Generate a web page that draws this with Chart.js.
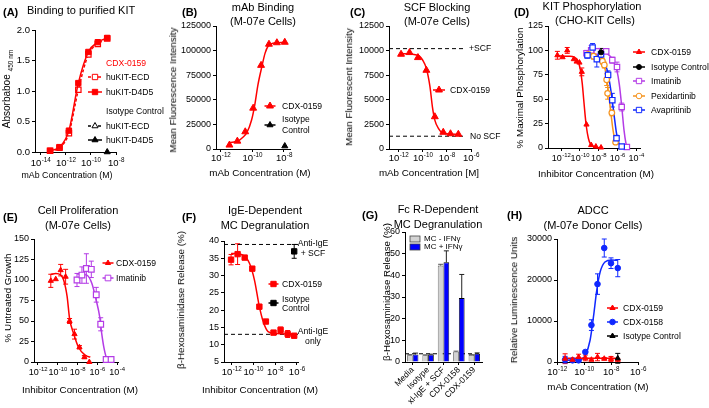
<!DOCTYPE html>
<html>
<head>
<meta charset="utf-8">
<script src="https://cdn.jsdelivr.net/npm/chart.js@4.4.1/dist/chart.umd.min.js"></script>
<style>
  html, body { margin: 0; padding: 0; background: #fff; }
  #fig { position: relative; width: 709px; height: 408px; overflow: hidden;
         font-family: 'Liberation Sans', Arial, Helvetica, sans-serif; color: #000; }
  #fig canvas { position: absolute; left: 0; top: 0; }
  .t { position: absolute; white-space: nowrap; line-height: 1; }
</style>
</head>
<body>
<div id="fig"></div>
<script>
// ============================================
// DATA  (concentrations are log10 of molar)
// ============================================
// (A) Binding to purified KIT
const aConc = [-13.25, -12.5, -11.75, -11.0, -10.2, -9.45, -8.7];
const aEcd = [0.02, 0.07, 0.31, 1.02, 1.60, 1.77, 1.86];
const aD4d5 = [0.02, 0.08, 0.35, 1.13, 1.64, 1.80, 1.87];
const aIsoConc = [-8.7];
const aIsoD4d5 = [0.0];
const aXTicks = [-14, -12, -10, -8];
const aYTicks = [0, 0.5, 1.0, 1.5, 2.0];

// (B) mAb binding, M-07e cells
const bConc = [-11.45, -10.95, -10.45, -9.95, -9.45, -8.95, -8.45, -7.95];
const bCdx = [4000, 8000, 17500, 41500, 85000, 106500, 108000, 108500];
const bFitConc = [-11.45, -10.9, -10.6, -10.35, -10.05, -9.85, -9.65, -9.4, -9.2, -9.0, -8.7, -7.95];
const bFit = [6400, 8100, 11900, 16600, 29500, 44700, 65000, 83700, 97200, 104700, 107400, 108400];
const bIsoConc = [-7.95];
const bIso = [3000];
const bXTicks = [-12, -10, -8];
const bYTicks = [0, 25000, 50000, 75000, 100000, 125000];

// (C) SCF blocking
const cConc = [-11.8, -11.1, -10.4, -9.7, -9.0, -8.3, -7.7, -7.05];
const cCdx = [9630, 9800, 9290, 8000, 3280, 1700, 1550, 1500];
const cFitConc = [-11.8, -10.4, -10.0, -9.7, -9.4, -9.2, -9.0, -8.7, -8.3, -7.05];
const cFit = [9700, 9530, 9020, 8180, 6320, 4290, 2940, 2100, 1590, 1490];
const cRefConc = [-12.8, -6.5];
const cPlusScf = [10200, 10200];
const cNoScf = [1300, 1300];
const cXTicks = [-12, -10, -8, -6];
const cYTicks = [0, 2500, 5000, 7500, 10000, 12500];

// (D) KIT phosphorylation, CHO-KIT cells
const dCdxConc = [-12.4, -11.85, -11.35, -10.65, -10.35, -10.05, -9.8, -9.3, -8.8, -8.3, -7.75];
const dCdx = [95, 93, 100, 91, 88.5, 87.5, 78, 24, 3, 1.5, 0.5];
const dCdxErr = [4, 0, 3, 0, 0, 0, 4, 0, 0, 0, 0];
const dCdxFitConc = [-12.4, -11.2, -10.6, -10.2, -9.95, -9.75, -9.6, -9.45, -9.3, -9.1, -8.9, -8.5, -7.75];
const dCdxFit = [94.5, 94, 93, 89, 80, 66, 50, 34, 21, 10, 4.5, 1, 0.2];
const dIsoConc = [-7.75];
const dIso = [98];
const dIsoErr = [4];
const dImaConc = [-9.3, -8.8, -8.2, -7.2, -6.55, -6.05, -5.55, -5.0];
const dIma = [97, 100, 99, 99, 90, 83, 42, 1];
const dImaErr = [3, 5, 3, 2, 3, 5, 4, 1];
const dImaFitConc = [-9.3, -7.5, -7.0, -6.6, -6.3, -6.05, -5.8, -5.55, -5.3, -5.1, -5.0];
const dImaFit = [98.5, 98, 96, 92, 86, 79, 65, 43, 18, 5, 2];
const dPexConc = [-9.1, -8.55, -7.6, -7.4, -7.15, -7.05, -6.6, -6.2];
const dPex = [96, 94, 89, 85, 70, 56, 36, 6];
const dPexErr = [3, 3, 3, 3, 6, 6, 3, 2];
const dPexFitConc = [-9.1, -8.0, -7.6, -7.3, -7.1, -6.9, -6.7, -6.5, -6.3, -6.1];
const dPexFit = [96, 93, 88, 80, 68, 52, 36, 20, 9, 3];
const dAvaConc = [-9.2, -8.65, -8.2, -7.75, -7.0, -6.55, -6.1, -5.55];
const dAva = [95, 103, 91, 96, 75, 49, 10, 1.5];
const dAvaErr = [3, 4, 8, 3, 4, 7, 3, 1];
const dAvaFitConc = [-9.2, -8.0, -7.5, -7.1, -6.85, -6.6, -6.35, -6.1, -5.85, -5.55];
const dAvaFit = [97, 95, 90, 80, 68, 52, 33, 15, 5, 1];
const dXTicks = [-12, -10, -8, -6, -4];
const dYTicks = [0, 25, 50, 75, 100, 125];

// (E) Cell proliferation, M-07e cells
const eCdxConc = [-10.7, -10.2, -9.7, -9.2, -8.8, -8.3, -7.8, -7.3, -6.8];
const eCdx = [99, 101, 112, 104, 50, 34, 18, 6, 0];
const eCdxErr = [8, 0, 7, 9, 3, 6, 2, 2, 0];
const eCdxFitConc = [-10.7, -10.2, -9.7, -9.4, -9.05, -8.8, -8.4, -7.9, -7.2, -6.7];
const eCdxFit = [107, 108, 106, 100, 80, 53, 35, 18, 8, 6];
const eImaConc = [-8.05, -7.55, -7.1, -6.6, -6.1, -5.65, -5.1, -4.6];
const eIma = [100, 106, 114, 113, 82, 46, 3, 3];
const eImaErr = [8, 10, 18, 10, 9, 8, 1, 1];
const eImaFitConc = [-8.05, -7.05, -6.55, -6.1, -5.75, -5.55, -5.3, -5.05, -4.6];
const eImaFit = [107.5, 106, 96, 75, 55, 35, 16, 5, 2];
const eXTicks = [-12, -10, -8, -6, -4];
const eYTicks = [0, 25, 50, 75, 100, 125, 150];

// (F) IgE-dependent MC degranulation
const fConc = [-12.05, -11.45, -10.8, -10.1, -9.45, -8.85, -8.15, -7.5, -6.85, -6.25];
const fCdx = [34.6, 36.2, 35.2, 32.0, 21.0, 16.7, 13.5, 14.3, 13.1, 12.6];
const fCdxErr = [1.5, 3, 0.3, 0.3, 0.3, 0.3, 0.3, 0.8, 1, 0.3];
const fFitConc = [-12.05, -11.1, -10.35, -9.9, -9.45, -9.1, -8.65, -8.05, -6.25];
const fFit = [36.4, 36.1, 33.5, 28.7, 21.0, 16.7, 13.8, 13.3, 13.0];
const fIsoConc = [-6.25];
const fIso = [37];
const fIsoErr = [2];
const fRefConc = [-12.7, -5.7];
const fAntiIgeScf = [39, 39];
const fAntiIgeOnly = [13, 13];
const fXTicks = [-12, -10, -8, -6];
const fYTicks = [5, 10, 15, 20, 25, 30, 35, 40];

// (G) Fc R-dependent MC degranulation
const gCats = ['Media', 'Isotype', 'xl-IgE + SCF', 'CDX-0158', 'CDX-0159'];
const gMinus = [3.1, 3.1, 44.5, 4.7, 3.2];
const gMinusErr = [0.3, 0.2, 0.6, 0.3, 0.2];
const gPlus = [3.5, 3.4, 46.0, 29.5, 3.8];
const gPlusErr = [0.6, 0.2, 5.3, 10.9, 0.4];
const gBaseline = 3.8;
const gYTicks = [0, 10, 20, 30, 40, 50, 60];

// (H) ADCC, M-07e donor cells
const hConc = [-11.4, -10.85, -10.4, -9.9, -9.45, -9.0, -8.5, -8.0, -7.5];
const h158 = [570, 400, 400, 2450, 9000, 19000, 27800, 24100, 22900];
const h158Err = [800, 350, 300, 350, 1300, 2500, 2200, 1300, 2100];
const h158FitConc = [-11.4, -10.4, -10.1, -9.9, -9.55, -9.3, -9.05, -8.8, -8.45, -7.95, -7.5];
const h158Fit = [400, 500, 900, 1600, 5300, 11000, 17600, 22000, 24400, 24900, 24800];
const h159 = [800, 550, 1200, 1000, 550, 1200, 800, 750, 550];
const h159Err = [1200, 250, 700, 700, 250, 900, 300, 600, 250];
const h159FitConc = [-11.4, -7.5];
const h159Fit = [900, 900];
const hIsoConc = [-7.5];
const hIso = [900];
const hIsoErr = [1200];
const hXTicks = [-12, -10, -8, -6];
const hYTicks = [0, 10000, 20000, 30000];

// ============================================
// HELPERS
// ============================================
const fig = document.getElementById('fig');
const FONT = "'Liberation Sans', Arial, Helvetica, sans-serif";
const RED = '#ff0000', PURPLE = '#b43ce6', ORANGE = '#f5931e', BLUE = '#1028ff', BLACK = '#000000';

function toPts(xs, ys) {
  return xs.map((x, i) => ({ x: Math.pow(10, x), y: ys[i] }));
}

function axisX(xmin, xmax, ticks) {
  return {
    type: 'logarithmic', min: Math.pow(10, xmin), max: Math.pow(10, xmax),
    afterBuildTicks: s => { s.ticks = ticks.map(v => ({ value: Math.pow(10, v) })); },
    ticks: { display: false, autoSkip: false },
    grid: { drawOnChartArea: false, tickLength: 3, color: BLACK, lineWidth: 1 },
    border: { color: BLACK, width: 1 }
  };
}
function axisY(ticks, size, fmt) {
  return {
    type: 'linear', min: ticks[0], max: ticks[ticks.length - 1],
    afterBuildTicks: s => { s.ticks = ticks.map(v => ({ value: v })); },
    ticks: { callback: fmt || (v => String(v)), font: { family: FONT, size: size }, color: BLACK,
             padding: 2, autoSkip: false },
    grid: { drawOnChartArea: false, tickLength: 3, color: BLACK, lineWidth: 1 },
    border: { color: BLACK, width: 1 }
  };
}

// symbols with optional error bars and connecting line
function dots(xs, ys, o) {
  return {
    data: toPts(xs, ys),
    pointStyle: o.style, pointRadius: o.r,
    pointBackgroundColor: o.open ? '#ffffff' : o.color, pointBorderColor: o.color,
    pointBorderWidth: o.open ? 1.2 : 1,
    showLine: !!o.line, borderColor: o.color, borderWidth: 1.5, borderDash: o.dash || [],
    cubicInterpolationMode: 'monotone', errs: o.errs, errColor: o.color, clip: false
  };
}
// fitted curve / reference line
function curve(xs, ys, color, dash, width) {
  return {
    data: toPts(xs, ys), showLine: true, pointRadius: 0,
    borderColor: color, borderWidth: width || 1.5, borderDash: dash || [],
    cubicInterpolationMode: 'monotone', clip: false
  };
}

function drawErr(chart, ds, i, upOnly) {
  const meta = chart.getDatasetMeta(i), ys = chart.scales.y, ctx = chart.ctx;
  ctx.save();
  ctx.strokeStyle = ds.errColor || BLACK;
  ctx.lineWidth = 1;
  meta.data.forEach((el, j) => {
    const e = ds.errs[j];
    if (!e) return;
    const raw = ds.data[j];
    const v = typeof raw === 'number' ? raw : raw.y;
    const y1 = ys.getPixelForValue(v + e);
    const y0 = ys.getPixelForValue(upOnly ? v : v - e);
    const x = el.x, c = 2.5;
    ctx.beginPath();
    ctx.moveTo(x, y0); ctx.lineTo(x, y1);
    ctx.moveTo(x - c, y1); ctx.lineTo(x + c, y1);
    if (!upOnly) { ctx.moveTo(x - c, y0); ctx.lineTo(x + c, y0); }
    ctx.stroke();
  });
  ctx.restore();
}

function drawMark(ctx, style, x, y, r, fill, stroke) {
  ctx.beginPath();
  if (style === 'triangle') {
    ctx.moveTo(x, y - r); ctx.lineTo(x + 0.866 * r, y + 0.5 * r); ctx.lineTo(x - 0.866 * r, y + 0.5 * r);
    ctx.closePath();
  } else if (style === 'rect') {
    const h = r * 0.707;
    ctx.rect(x - h, y - h, 2 * h, 2 * h);
  } else {
    ctx.arc(x, y, r, 0, Math.PI * 2);
  }
  ctx.fillStyle = fill; ctx.fill();
  ctx.lineWidth = 1; ctx.strokeStyle = stroke; ctx.stroke();
}

// "10" with a raised exponent under every tick of the log x axis
function drawExpTicks(chart, size, dy) {
  const sx = chart.scales.x, ctx = chart.ctx;
  const base = chart.chartArea.bottom + dy;
  const small = size * 0.66;
  ctx.save();
  ctx.fillStyle = BLACK; ctx.textAlign = 'left'; ctx.textBaseline = 'alphabetic';
  sx.ticks.forEach(t => {
    const x = sx.getPixelForValue(t.value);
    const e = String(Math.round(Math.log10(t.value)));
    ctx.font = size + 'px ' + FONT;
    const w1 = ctx.measureText('10').width;
    ctx.font = small + 'px ' + FONT;
    const w2 = ctx.measureText(e).width;
    const x0 = x - (w1 + w2) / 2;
    ctx.font = size + 'px ' + FONT;
    ctx.fillText('10', x0, base);
    ctx.font = small + 'px ' + FONT;
    ctx.fillText(e, x0 + w1 + 0.3, base - size * 0.42);
  });
  ctx.restore();
}

function decor(p) {
  return {
    id: 'decor',
    beforeDatasetsDraw(chart) {
      const ctx = chart.ctx, area = chart.chartArea;
      if (p.baseline !== undefined) {
        const y = chart.scales.y.getPixelForValue(p.baseline);
        ctx.save();
        ctx.strokeStyle = BLACK; ctx.lineWidth = 1; ctx.setLineDash([4, 3]);
        ctx.beginPath(); ctx.moveTo(area.left, y); ctx.lineTo(area.right, y); ctx.stroke();
        ctx.restore();
      }
      chart.data.datasets.forEach((ds, i) => { if (ds.errs && !ds.errUp) drawErr(chart, ds, i, false); });
    },
    afterDatasetsDraw(chart) {
      chart.data.datasets.forEach((ds, i) => { if (ds.errs && ds.errUp) drawErr(chart, ds, i, true); });
    },
    afterDraw(chart) {
      const ctx = chart.ctx;
      if (p.expSize) drawExpTicks(chart, p.expSize, p.expDy || 12);
      (p.legend || []).forEach(it => {
        ctx.save();
        if (it.box) {
          ctx.fillStyle = it.color; ctx.strokeStyle = '#444'; ctx.lineWidth = 0.8;
          ctx.fillRect(it.x - 5, it.y - 3, 10, 6); ctx.strokeRect(it.x - 5, it.y - 3, 10, 6);
        } else {
          const half = (it.len || 12) / 2;
          ctx.strokeStyle = it.color; ctx.lineWidth = 1.5;
          if (it.dash) ctx.setLineDash([3, 2]);
          ctx.beginPath(); ctx.moveTo(it.x - half, it.y); ctx.lineTo(it.x + half, it.y); ctx.stroke();
          ctx.setLineDash([]);
          drawMark(ctx, it.style, it.x, it.y, it.r || 3, it.open ? '#ffffff' : it.color, it.color);
        }
        ctx.restore();
      });
    }
  };
}

function makePanel(p) {
  const cv = document.createElement('canvas');
  cv.width = 709; cv.height = 408;
  fig.appendChild(cv);
  const yw = p.yw || 50, xh = p.xh || 20;
  p.x.afterFit = s => { s.height = xh; };
  p.y.afterFit = s => { s.width = yw; };
  new Chart(cv, {
    type: p.type || 'scatter',
    data: { labels: p.labels, datasets: p.datasets },
    options: {
      responsive: false, animation: false, events: [],
      layout: { padding: { left: p.L - yw, right: 709 - p.R, top: p.T, bottom: 408 - p.B - xh } },
      plugins: { legend: { display: false }, tooltip: { enabled: false } },
      scales: { x: p.x, y: p.y }
    },
    plugins: [decor(p)]
  });
}

function txt(s, x, y, o) {
  o = o || {};
  const d = document.createElement('div');
  d.className = 't';
  d.innerHTML = s;
  d.style.left = x + 'px';
  d.style.top = y + 'px';
  d.style.fontSize = (o.size || 9.8) + 'px';
  if (o.bold) d.style.fontWeight = 'bold';
  if (o.color) d.style.color = o.color;
  const ax = o.align === 'left' ? '0' : (o.align === 'right' ? '-100%' : '-50%');
  d.style.transform = 'translate(' + ax + ',-50%)' + (o.rot ? ' rotate(' + o.rot + 'deg)' : '');
  fig.appendChild(d);
}

// ============================================
// PANELS
// ============================================
// (A)
makePanel({
  L: 35, R: 116, T: 30, B: 152, yw: 35, expSize: 9.5, expDy: 14,
  x: axisX(-14.45, -8, aXTicks), y: axisY(aYTicks, 9.5, v => v.toFixed(1)),
  datasets: [
    dots(aIsoConc, aIsoD4d5, { color: BLACK, style: 'triangle', r: 3.5 }),
    dots(aConc, aD4d5, { color: RED, style: 'rect', r: 3.8, line: true }),
    dots(aConc, aEcd, { color: RED, style: 'rect', r: 3.8, open: true, line: true, dash: [3, 2] })
  ],
  legend: [
    { x: 95, y: 77, color: RED, style: 'rect', r: 3.8, open: true, dash: true, len: 14 },
    { x: 95, y: 92, color: RED, style: 'rect', r: 3.8, len: 14 },
    { x: 95, y: 126, color: BLACK, style: 'triangle', r: 3.5, open: true, dash: true, len: 14 },
    { x: 95, y: 140, color: BLACK, style: 'triangle', r: 3.5, len: 14 }
  ]
});

// (B)
makePanel({
  L: 216, R: 290, T: 26, B: 149, expSize: 9.5, expDy: 12,
  x: axisX(-12.3, -7.62, bXTicks), y: axisY(bYTicks, 9),
  datasets: [
    dots(bIsoConc, bIso, { color: BLACK, style: 'triangle', r: 3.5 }),
    dots(bConc, bCdx, { color: RED, style: 'triangle', r: 4 }),
    curve(bFitConc, bFit, RED)
  ],
  legend: [
    { x: 270, y: 106, color: RED, style: 'triangle', r: 4, len: 11 },
    { x: 270, y: 125, color: BLACK, style: 'triangle', r: 3.5, len: 11 }
  ]
});

// (C)
makePanel({
  L: 389, R: 471, T: 26, B: 149, expSize: 9.5, expDy: 12,
  x: axisX(-12.8, -6, cXTicks), y: axisY(cYTicks, 9),
  datasets: [
    dots(cConc, cCdx, { color: RED, style: 'triangle', r: 4 }),
    curve(cFitConc, cFit, RED),
    curve(cRefConc, cPlusScf, BLACK, [4, 3], 1),
    curve(cRefConc, cNoScf, BLACK, [4, 3], 1)
  ],
  legend: [
    { x: 439, y: 90, color: RED, style: 'triangle', r: 4, len: 12 }
  ]
});

// (D)
makePanel({
  L: 548, R: 640, T: 26, B: 148, expSize: 9, expDy: 13,
  x: axisX(-13.4, -3.6, dXTicks), y: axisY(dYTicks, 9),
  datasets: [
    dots(dCdxConc, dCdx, { color: RED, style: 'triangle', r: 3, errs: dCdxErr }),
    dots(dIsoConc, dIso, { color: BLACK, style: 'circle', r: 2.5, errs: dIsoErr }),
    dots(dAvaConc, dAva, { color: BLUE, style: 'rect', r: 3.8, open: true, errs: dAvaErr }),
    dots(dPexConc, dPex, { color: ORANGE, style: 'circle', r: 2.8, open: true, errs: dPexErr }),
    dots(dImaConc, dIma, { color: PURPLE, style: 'rect', r: 3.8, open: true, errs: dImaErr }),
    curve(dCdxFitConc, dCdxFit, RED),
    curve(dAvaFitConc, dAvaFit, BLUE),
    curve(dPexFitConc, dPexFit, ORANGE),
    curve(dImaFitConc, dImaFit, PURPLE)
  ],
  legend: [
    { x: 639, y: 52, color: RED, style: 'triangle', r: 3, len: 12 },
    { x: 639, y: 67, color: BLACK, style: 'circle', r: 2.5, len: 12 },
    { x: 639, y: 81, color: PURPLE, style: 'rect', r: 3.8, open: true, len: 12 },
    { x: 639, y: 96, color: ORANGE, style: 'circle', r: 2.8, open: true, len: 12 },
    { x: 639, y: 110, color: BLUE, style: 'rect', r: 3.8, open: true, len: 12 }
  ]
});

// (E)
makePanel({
  L: 34, R: 118, T: 239, B: 362, yw: 34, expSize: 9, expDy: 13,
  x: axisX(-12.4, -3.9, eXTicks), y: axisY(eYTicks, 9),
  datasets: [
    dots(eCdxConc, eCdx, { color: RED, style: 'triangle', r: 3, errs: eCdxErr }),
    dots(eImaConc, eIma, { color: PURPLE, style: 'rect', r: 4, open: true, errs: eImaErr }),
    curve(eCdxFitConc, eCdxFit, RED),
    curve(eImaFitConc, eImaFit, PURPLE)
  ],
  legend: [
    { x: 108, y: 263, color: RED, style: 'triangle', r: 3, len: 11 },
    { x: 108, y: 278, color: PURPLE, style: 'rect', r: 4, open: true, len: 11 }
  ]
});

// (F)
makePanel({
  L: 224, R: 298, T: 241, B: 362, expSize: 9.5, expDy: 13,
  x: axisX(-12.7, -5.9, fXTicks), y: axisY(fYTicks, 9),
  datasets: [
    dots(fIsoConc, fIso, { color: BLACK, style: 'rect', r: 3.8, errs: fIsoErr }),
    dots(fConc, fCdx, { color: RED, style: 'rect', r: 3.8, errs: fCdxErr }),
    curve(fFitConc, fFit, RED),
    curve(fRefConc, fAntiIgeScf, BLACK, [4, 3], 1),
    curve(fRefConc, fAntiIgeOnly, BLACK, [4, 3], 1)
  ],
  legend: [
    { x: 273.5, y: 284, color: RED, style: 'rect', r: 3.8, len: 10 },
    { x: 273.5, y: 303, color: BLACK, style: 'rect', r: 3.8, len: 10 }
  ]
});

// (G)
makePanel({
  type: 'bar', labels: gCats, baseline: gBaseline,
  L: 405, R: 482, T: 232, B: 362, xh: 46,
  x: {
    type: 'category', offset: true,
    ticks: { font: { family: FONT, size: 8.5 }, color: BLACK, minRotation: 45, maxRotation: 45, padding: 0, autoSkip: false },
    grid: { drawOnChartArea: false, tickLength: 3, color: BLACK, offset: false },
    border: { color: BLACK, width: 1 }
  },
  y: axisY(gYTicks, 9),
  datasets: [
    { label: 'MC - IFN\u03B3', data: gMinus, backgroundColor: '#d3d3d3', borderColor: '#555', borderWidth: 0.8,
      barPercentage: 1, categoryPercentage: 0.74, errs: gMinusErr, errUp: true, errColor: '#555' },
    { label: 'MC + IFN\u03B3', data: gPlus, backgroundColor: '#0000ff', borderColor: '#000', borderWidth: 0.8,
      barPercentage: 1, categoryPercentage: 0.74, errs: gPlusErr, errUp: true, errColor: '#222' }
  ],
  legend: [
    { x: 415, y: 239, color: '#d3d3d3', box: true },
    { x: 415, y: 247, color: '#0000ff', box: true }
  ]
});

// (H)
makePanel({
  L: 557, R: 638, T: 239, B: 362, expSize: 9.5, expDy: 13,
  x: axisX(-12, -6, hXTicks), y: axisY(hYTicks, 9),
  datasets: [
    dots(hIsoConc, hIso, { color: BLACK, style: 'triangle', r: 3, errs: hIsoErr }),
    dots(hConc, h159, { color: RED, style: 'triangle', r: 3, errs: h159Err }),
    dots(hConc, h158, { color: BLUE, style: 'circle', r: 2.8, errs: h158Err }),
    curve(h159FitConc, h159Fit, RED),
    curve(h158FitConc, h158Fit, BLUE)
  ],
  legend: [
    { x: 612.5, y: 308, color: RED, style: 'triangle', r: 3, len: 11 },
    { x: 612.5, y: 322, color: BLUE, style: 'circle', r: 2.8, len: 11 },
    { x: 612.5, y: 336, color: BLACK, style: 'triangle', r: 3, len: 11 }
  ]
});

// ============================================
// TEXT: titles, axis titles, legends, labels
// ============================================
const TS = 11, LS = 8.6;
// (A)
txt('(A)', 3, 12, { bold: true, size: TS, align: 'left' });
txt('Binding to purified KIT', 27, 10, { size: TS, align: 'left' });
txt('mAb Concentration (M)', 67, 175, { size: 8.8 });
txt('Absorbaboe <sub style="font-size:6.5px">450 nm</sub>', 8, 89, { size: 10, rot: -90 });
txt('CDX-0159', 106, 63, { size: LS, align: 'left', color: RED });
txt('huKIT-ECD', 106, 77, { size: LS, align: 'left' });
txt('huKIT-D4D5', 106, 92, { size: LS, align: 'left' });
txt('Isotype Control', 106, 111, { size: LS, align: 'left' });
txt('huKIT-ECD', 106, 126, { size: LS, align: 'left' });
txt('huKIT-D4D5', 106, 140, { size: LS, align: 'left' });
// (B)
txt('(B)', 182, 12, { bold: true, size: TS, align: 'left' });
txt('mAb Binding', 263, 7, { size: TS });
txt('(M-07e Cells)', 263, 21, { size: TS });
txt('mAb Concentration (M)', 260, 173);
txt('Mean Fluorescence Intensity', 173, 90, { rot: -90 });
txt('CDX-0159', 282, 106, { size: LS, align: 'left' });
txt('Isotype', 282, 119, { size: LS, align: 'left' });
txt('Control', 282, 130, { size: LS, align: 'left' });
// (C)
txt('(C)', 350, 12, { bold: true, size: TS, align: 'left' });
txt('SCF Blocking', 437, 7, { size: TS });
txt('(M-07e Cells)', 437, 21, { size: TS });
txt('mAb Concentration [M]', 429, 173);
txt('Mean Fluorescent Intensity', 349, 87, { rot: -90 });
txt('CDX-0159', 450, 90, { size: LS, align: 'left' });
txt('+SCF', 469, 48, { size: LS, align: 'left' });
txt('No SCF', 470, 136, { size: LS, align: 'left' });
// (D)
txt('(D)', 514, 12, { bold: true, size: TS, align: 'left' });
txt('KIT Phosphorylation', 592, 6, { size: TS });
txt('(CHO-KIT Cells)', 595, 20, { size: TS });
txt('Inhibitor Concentration (M)', 596, 174);
txt('% Maximal Phosphorylation', 520, 88, { rot: -90 });
txt('CDX-0159', 651, 52, { size: LS, align: 'left' });
txt('Isotype Control', 651, 67, { size: LS, align: 'left' });
txt('Imatinib', 651, 81, { size: LS, align: 'left' });
txt('Pexidartinib', 651, 96, { size: LS, align: 'left' });
txt('Avapritinib', 651, 110, { size: LS, align: 'left' });
// (E)
txt('(E)', 3, 217, { bold: true, size: TS, align: 'left' });
txt('Cell Proliferation', 78, 210, { size: TS });
txt('(M-07e Cells)', 78, 225, { size: TS });
txt('Inhibitor Concentration (M)', 80, 390);
txt('% Untreated Growth', 8, 298, { rot: -90 });
txt('CDX-0159', 116, 263, { size: LS, align: 'left' });
txt('Imatinib', 116, 278, { size: LS, align: 'left' });
// (F)
txt('(F)', 182, 217, { bold: true, size: TS, align: 'left' });
txt('IgE-Dependent', 265, 210, { size: TS });
txt('MC Degranulation', 265, 225, { size: TS });
txt('Inhibitor Concentration (M)', 260, 390);
txt('\u03B2-Hexosaminidase Release (%)', 181, 300, { rot: -90 });
txt('CDX-0159', 282, 284, { size: LS, align: 'left' });
txt('Isotype', 282, 299, { size: LS, align: 'left' });
txt('Control', 282, 308, { size: LS, align: 'left' });
txt('Anti-IgE', 313, 243, { size: LS });
txt('+ SCF', 313, 252.5, { size: LS });
txt('Anti-IgE', 313, 331, { size: LS });
txt('only', 313, 341, { size: LS });
// (G)
txt('(G)', 362, 215, { bold: true, size: TS, align: 'left' });
txt('Fc R-Dependent', 438, 209, { size: TS });
txt('MC Degranulation', 438, 224, { size: TS });
txt('\u03B2-Hexosaminidase Release (%)', 387, 292, { rot: -90 });
txt('MC - IFN\u03B3', 424, 239, { size: 8, align: 'left' });
txt('MC + IFN\u03B3', 424, 247, { size: 8, align: 'left' });
// (H)
txt('(H)', 507, 215, { bold: true, size: TS, align: 'left' });
txt('ADCC', 593, 210, { size: TS });
txt('(M-07e Donor Cells)', 593, 225, { size: TS });
txt('mAb Concentration (M)', 598, 387);
txt('Relative Luminescence Units', 514, 300, { rot: -90 });
txt('CDX-0159', 623, 308, { size: LS, align: 'left' });
txt('CDX-0158', 623, 322, { size: LS, align: 'left' });
txt('Isotype Control', 623, 336, { size: LS, align: 'left' });
</script>
</body>
</html>
